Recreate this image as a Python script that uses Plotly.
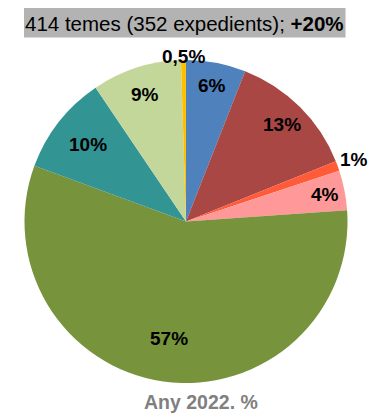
import math
import plotly.graph_objects as go

# ---- data ----
categories = ["A", "B", "C", "D", "E", "F", "G", "H"]
values = [6, 13, 1, 4, 57, 10, 9, 0.5]
value_labels = ["6%", "13%", "1%", "4%", "57%", "10%", "9%", "0,5%"]
title_text = "414 temes (352 expedients); <b>+20%</b>"
bottom_text = "<b>Any 2022. %</b>"

# ---- style ----
colors = ["#4F81BD", "#A84744", "#FF5B39", "#FF9999", "#77933C", "#339494", "#C4D79B", "#FFC000"]
label_radius = [0.86, 0.845, 1.11, 0.875, 0.73, 0.77, 0.825, 1.02]

W, H = 369, 413
ML, MR, MT, MB = 24, 21, 60, 30
PW, PH = W - ML - MR, H - MT - MB
R = min(PW, PH) / 2
CX, CY = ML + PW / 2, MT + PH / 2


def to_paper(px, py):
    return (px - ML) / PW, (H - MB - py) / PH


fig = go.Figure(go.Pie(
    labels=categories, values=values,
    textinfo="none", sort=False, direction="clockwise", rotation=0,
    marker=dict(colors=colors, line=dict(width=0)),
    showlegend=False, hoverinfo="skip",
))

annotations = []
total = sum(values)
cum = 0.0
for v, lab, f in zip(values, value_labels, label_radius):
    mid = (cum + v / 2) / total * 2 * math.pi
    cum += v
    x, y = to_paper(CX + R * f * math.sin(mid), CY - R * f * math.cos(mid))
    annotations.append(dict(
        text=f"<b>{lab}</b>", x=x, y=y,
        xref="paper", yref="paper", xanchor="center", yanchor="middle",
        showarrow=False, font=dict(family="Liberation Sans, Arial", size=19, color="black")))

tx, ty = to_paper(184.5, 23)
annotations.append(dict(
    text=title_text, x=tx, y=ty,
    xref="paper", yref="paper", xanchor="center", yanchor="middle", showarrow=False,
    font=dict(family="Liberation Sans, Arial", size=20.5, color="black")))
bx, by = to_paper(200.5, 401.5)
annotations.append(dict(
    text=bottom_text, x=bx, y=by,
    xref="paper", yref="paper", xanchor="center", yanchor="middle", showarrow=False,
    font=dict(family="Liberation Sans, Arial", size=19.5, color="#808080")))

x0, y0 = to_paper(24, 37.5)
x1, y1 = to_paper(345.5, 8)
fig.update_layout(
    width=W, height=H,
    margin=dict(l=ML, r=MR, t=MT, b=MB, autoexpand=False),
    paper_bgcolor="white", plot_bgcolor="white",
    annotations=annotations,
    shapes=[dict(type="rect", xref="paper", yref="paper", x0=x0, x1=x1, y0=y0, y1=y1,
                 fillcolor="#B3B3B3", line=dict(width=0), layer="below")],
)
fig.write_html("out.html", config={"displayModeBar": False},
               post_script="document.body.style.margin='0';")
